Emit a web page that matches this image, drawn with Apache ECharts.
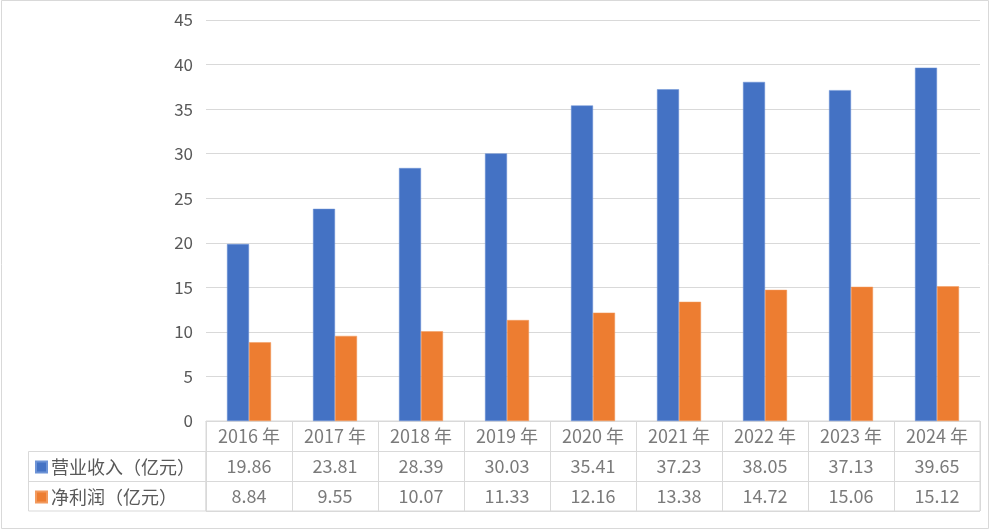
<!DOCTYPE html>
<html>
<head>
<meta charset="utf-8">
<script src="https://cdn.jsdelivr.net/npm/echarts@6/dist/echarts.min.js"></script>
<style>html,body{margin:0;padding:0;background:#fff;}#c{width:1000px;height:531px;}</style>
</head>
<body>
<div id="c"></div>
<script>
var years = ['2016 年','2017 年','2018 年','2019 年','2020 年','2021 年','2022 年','2023 年','2024 年'];
var revenue = [19.86, 23.81, 28.39, 30.03, 35.41, 37.23, 38.05, 37.13, 39.65];
var profit = [8.84, 9.55, 10.07, 11.33, 12.16, 13.38, 14.72, 15.06, 15.12];
var seriesNames = ['营业收入（亿元）', '净利润（亿元）'];
var colors = ['#4472C4', '#ED7D31'];

var FONT = '"Noto Sans CJK SC", "Noto Sans", sans-serif';
var TXT = '#595959';
var LINE = '#d9d9d9';

var tableRows = ['header', 'rev', 'pro'];
var cells = [];
years.forEach(function (y, i) {
  cells.push([i, 0, y]);
  cells.push([i, 1, revenue[i].toFixed(2)]);
  cells.push([i, 2, profit[i].toFixed(2)]);
});

var chart = echarts.init(document.getElementById('c'));
chart.setOption({
  backgroundColor: '#fff',
  animation: false,
  color: colors,
  legend: {
    orient: 'vertical',
    left: 35,
    top: 456,
    padding: 0,
    itemWidth: 11,
    itemHeight: 11,
    itemGap: 8,
    icon: 'rect',
    selectedMode: false,
    textStyle: { color: TXT, fontSize: 18, fontFamily: FONT, lineHeight: 22, padding: [0, 0, 0, -1] },
    data: seriesNames
  },
  grid: [
    { left: 206, right: 20, top: 20, bottom: 110 },
    { left: 206, right: 20, top: 421, height: 90, show: true, borderColor: LINE, borderWidth: 1 }
  ],
  xAxis: [
    {
      type: 'category', gridIndex: 0, data: years,
      axisLine: { show: true, lineStyle: { color: LINE } },
      axisTick: { show: false }, axisLabel: { show: false }
    },
    {
      type: 'category', gridIndex: 1, data: years,
      axisLine: { show: false }, axisTick: { show: false }, axisLabel: { show: false },
      splitLine: { show: true, lineStyle: { color: LINE } }
    }
  ],
  yAxis: [
    {
      type: 'value', gridIndex: 0, min: 0, max: 45, interval: 5,
      axisLine: { show: false }, axisTick: { show: false },
      axisLabel: { color: TXT, fontSize: 17, fontFamily: FONT, margin: 13 },
      splitLine: { lineStyle: { color: LINE } }
    },
    {
      type: 'category', gridIndex: 1, data: tableRows, inverse: true,
      axisLine: { show: false }, axisTick: { show: false }, axisLabel: { show: false },
      splitLine: { show: true, lineStyle: { color: LINE } }
    }
  ],
  series: [
    {
      name: seriesNames[0], type: 'bar', xAxisIndex: 0, yAxisIndex: 0,
      data: revenue, barWidth: 22, barGap: '0%',
      itemStyle: { color: colors[0], borderColor: '#6d93d6', borderWidth: 0.5 }
    },
    {
      name: seriesNames[1], type: 'bar', xAxisIndex: 0, yAxisIndex: 0,
      data: profit, barWidth: 22, barGap: '0%',
      itemStyle: { color: colors[1], borderColor: '#f29a5e', borderWidth: 0.5 }
    },
    {
      type: 'scatter', xAxisIndex: 1, yAxisIndex: 1, symbolSize: 0,
      data: cells, silent: true,
      label: {
        show: true, position: 'inside', color: TXT, fontSize: 18, fontFamily: FONT,
        formatter: function (p) { return p.value[2]; }
      }
    }
  ],
  graphic: [
    { type: 'rect', silent: true, shape: { x: 1.5, y: 0.5, width: 987, height: 528 },
      style: { fill: 'none', stroke: LINE, lineWidth: 1 } },
    { type: 'rect', silent: true, shape: { x: 28.5, y: 451.5, width: 177.5, height: 59.5 },
      style: { fill: 'none', stroke: LINE, lineWidth: 1 } },
    { type: 'line', silent: true, shape: { x1: 28.5, y1: 481.5, x2: 206, y2: 481.5 },
      style: { stroke: LINE, lineWidth: 1 } }
  ]
});
</script>
</body>
</html>
